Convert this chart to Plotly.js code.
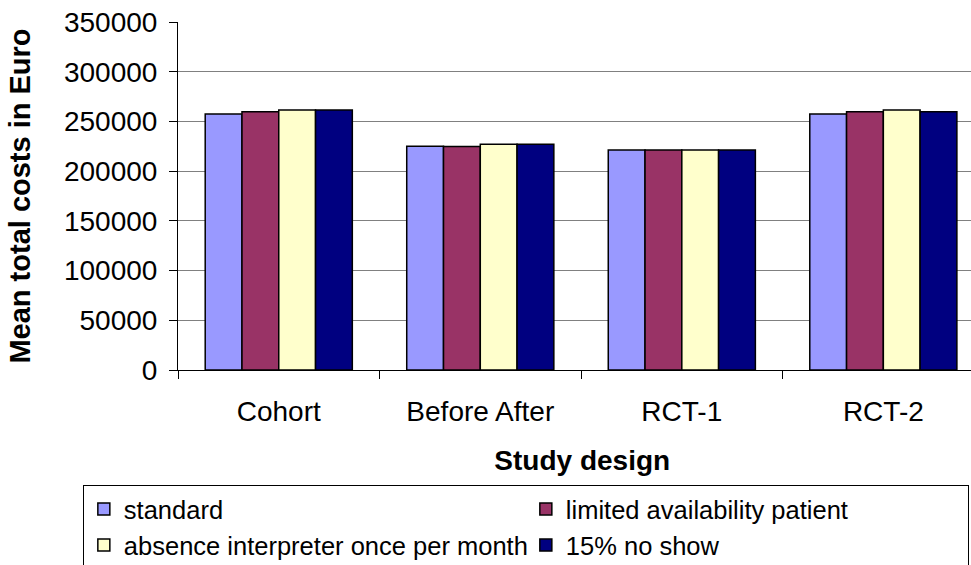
<!DOCTYPE html>
<html>
<head>
<meta charset="utf-8">
<script src="https://cdn.plot.ly/plotly-3.0.1.min.js"></script>
<style>html,body{margin:0;padding:0;background:#fff;}#chart{width:971px;height:565px;}</style>
</head>
<body>
<div id="chart"></div>
<script>
const categories = ["Cohort", "Before After", "RCT-1", "RCT-2"];
const standard = [257500, 225000, 221300, 257500];
const limitedAvailability = [259700, 224800, 221300, 259700];
const absenceInterpreter = [261500, 227000, 221300, 261500];
const noShow15 = [261500, 227000, 221300, 259700];
const seriesNames = ["standard", "limited availability patient", "absence interpreter once per month", "15% no show"];
const seriesColors = ["#9999FF", "#993366", "#FFFFCC", "#000080"];
const yTicks = [0, 50000, 100000, 150000, 200000, 250000, 300000, 350000];

const seriesValues = [standard, limitedAvailability, absenceInterpreter, noShow15];
const font = "Liberation Sans, Arial, sans-serif";

const traces = seriesValues.map((vals, i) => ({
  type: "bar",
  x: categories,
  y: vals,
  name: seriesNames[i],
  marker: { color: seriesColors[i], line: { color: "#000000", width: 1.5 } },
  hoverinfo: "none"
}));

const layout = {
  width: 971,
  height: 565,
  margin: { l: 178, r: 0, t: 22, b: 195, autoexpand: false },
  paper_bgcolor: "#ffffff",
  plot_bgcolor: "#ffffff",
  barmode: "group",
  bargap: 0.27,
  bargroupgap: 0,
  font: { family: font, size: 28, color: "#000000" },
  xaxis: {
    type: "category",
    range: [-0.5, 3.435],
    showline: true,
    linecolor: "#000000",
    linewidth: 1,
    ticks: "outside",
    tickson: "boundaries",
    ticklen: 8,
    tickcolor: "#000000",
    tickfont: { family: font, size: 28, color: "#000000" },
    ticklabelstandoff: 16,
    showgrid: false,
    zeroline: false,
    title: { text: "<b>&nbsp;&nbsp;Study design</b>", font: { family: font, size: 28, color: "#000000" }, standoff: 24 }
  },
  yaxis: {
    range: [0, 350000],
    tickvals: yTicks,
    ticktext: yTicks.map(String),
    showline: true,
    linecolor: "#000000",
    linewidth: 1,
    ticks: "outside",
    ticklen: 8,
    tickcolor: "#000000",
    tickfont: { family: font, size: 28, color: "#000000" },
    ticklabelstandoff: 6,
    showgrid: true,
    gridcolor: "#808080",
    gridwidth: 1,
    zeroline: false,
    title: { text: "<b>Mean total costs in Euro</b>", font: { family: font, size: 29, color: "#000000" }, standoff: 24 }
  },
  showlegend: true,
  legend: {
    orientation: "h",
    x: -0.12,
    xanchor: "left",
    y: -0.33,
    yanchor: "top",
    bordercolor: "#000000",
    borderwidth: 1,
    bgcolor: "#ffffff",
    font: { family: font, size: 25.5, color: "#000000" },
    entrywidth: 397,
    entrywidthmode: "pixels",
    traceorder: "normal",
    tracegroupgap: 0,
    itemclick: false,
    itemdoubleclick: false
  }
};

Plotly.newPlot("chart", traces, layout, { displayModeBar: false, staticPlot: true });
</script>
</body>
</html>
